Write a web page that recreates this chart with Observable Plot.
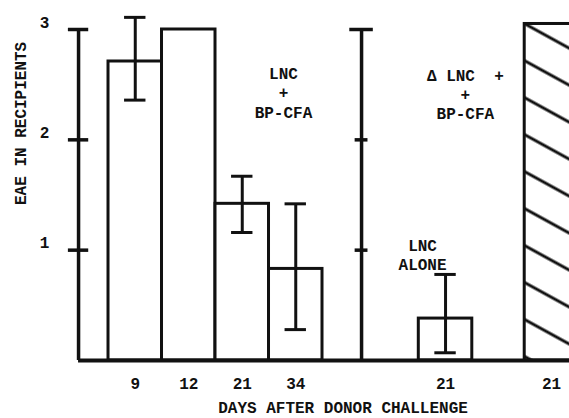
<!DOCTYPE html>
<html><head><meta charset="utf-8">
<script src="https://cdn.jsdelivr.net/npm/d3@7"></script>
<script src="https://cdn.jsdelivr.net/npm/@observablehq/plot@0.6"></script>
<style>html,body{margin:0;padding:0;background:#fff;overflow:hidden} svg{display:block;overflow:hidden}</style>
</head><body><div id="chart"></div>
<script>
// ---- data ----
const days = ["9", "12", "21", "34", "21", "21"];
const treatment = ["LNC + BP-CFA", "LNC + BP-CFA", "LNC + BP-CFA", "LNC + BP-CFA", "LNC alone", "ΔLNC + BP-CFA"];
const eae = [2.71, 3.0, 1.42, 0.83, 0.38, 3.05];
const errLow = [2.36, null, 1.16, 0.28, 0.07, null];
const errHigh = [3.11, null, 1.67, 1.42, 0.78, null];
const hatched = [false, false, false, false, false, true];
const yTicks = [1, 2, 3];
const yTickLabels = ["1", "2", "3"];
const notes = ["LNC\n+\nBP-CFA", "Δ LNC  +\n+\nBP-CFA", "LNC\nALONE"];
const xTitle = "DAYS AFTER DONOR CHALLENGE";
const yTitle = "EAE IN RECIPIENTS";

// ---- layout ----
const groupOf = [0, 0, 0, 0, 1, 2];
const groupShift = [0, 1.8, 2.78];
const slot = days.map((d, i) => i + groupShift[groupOf[i]]);
const axis1 = -0.56, axis2 = 4.73;
const noteX = [3.27, 6.67, 5.87];
const noteY = [2.43, 2.42, 0.965];

const bars = days.map((d, i) => ({
  day: d, treatment: treatment[i], x1: slot[i], x2: slot[i] + 1, xc: slot[i] + 0.5,
  y0: 0, eae: eae[i], lo: errLow[i], hi: errHigh[i], hatched: hatched[i]
}));
const errs = bars.filter(b => b.lo != null);
const ink = "#111";

const plot = Plot.plot({
  width: 569, height: 418,
  marginLeft: 0, marginRight: 0, marginTop: 29, marginBottom: 58,
  x: {type: "linear", domain: [-2.019, 8.617], axis: null},
  y: {domain: [0, 3], axis: null},
  style: {fontFamily: "'Liberation Mono', 'DejaVu Sans Mono', monospace", fontSize: "16px", fontWeight: "bold", color: ink, background: "#fff"},
  marks: [
    Plot.rect(bars.filter(b => !b.hatched), {x1: "x1", x2: "x2", y1: "y0", y2: "eae", fill: "white", stroke: ink, strokeWidth: 3}),
    Plot.rect(bars.filter(b => b.hatched), {x1: "x1", x2: "x2", y1: "y0", y2: "eae", fill: "url(#hatch)", stroke: ink, strokeWidth: 3}),
    // baseline
    Plot.ruleY([0], {x1: axis1, x2: 8.8, stroke: ink, strokeWidth: 4}),
    // left axis
    Plot.ruleX([axis1], {y1: 0, y2: 3, stroke: ink, strokeWidth: 3.5}),
    Plot.ruleY(yTicks, {y: d => d, x1: axis1 - 0.19, x2: axis1 + 0.19, stroke: ink, strokeWidth: 3.5}),
    Plot.text(yTicks, {x: axis1, y: d => d, text: (d, i) => yTickLabels[i], dx: -34, dy: -7}),
    // second axis
    Plot.ruleX([axis2], {y1: 0, y2: 3, stroke: ink, strokeWidth: 3.5}),
    Plot.ruleY(yTicks.filter(t => t < 3), {y: d => d, x1: axis2 - 0.12, x2: axis2 + 0.12, stroke: ink, strokeWidth: 3.5}),
    Plot.ruleY(yTicks.filter(t => t === 3), {y: d => d, x1: axis2 - 0.22, x2: axis2 + 0.22, stroke: ink, strokeWidth: 3.5}),
    // error bars
    Plot.ruleX(errs, {x: "xc", y1: "lo", y2: "hi", stroke: ink, strokeWidth: 3}),
    Plot.ruleY(errs, {y: "lo", x1: d => d.xc - 0.2, x2: d => d.xc + 0.2, stroke: ink, strokeWidth: 3}),
    Plot.ruleY(errs, {y: "hi", x1: d => d.xc - 0.2, x2: d => d.xc + 0.2, stroke: ink, strokeWidth: 3}),
    // day labels
    Plot.text(bars, {x: "xc", y: "y0", text: "day", dy: 23}),
    // notes
    Plot.text(notes, {x: (d, i) => noteX[i], y: (d, i) => noteY[i], text: d => d, lineHeight: 1.19}),
    // titles
    Plot.text([xTitle], {frameAnchor: "bottom", text: d => d, dx: 58, dy: 52}),
    Plot.text([yTitle], {frameAnchor: "left", text: d => d, rotate: -90, dx: 20, dy: 10})
  ]
});

// hatch pattern aligned with the hatched bar
const sx = plot.scale("x"), sy = plot.scale("y");
const hb = bars.find(b => b.hatched);
const ox = sx.apply(hb.x1), oy = sy.apply(hb.eae);
const ns = "http://www.w3.org/2000/svg";
const defs = document.createElementNS(ns, "defs");
const pat = document.createElementNS(ns, "pattern");
const ph = 32.4;
pat.setAttribute("id", "hatch");
pat.setAttribute("patternUnits", "userSpaceOnUse");
pat.setAttribute("width", 40);
pat.setAttribute("height", ph);
pat.setAttribute("patternTransform", `translate(${ox},${oy}) rotate(28.8)`);
const bg = document.createElementNS(ns, "rect");
bg.setAttribute("width", 40); bg.setAttribute("height", ph); bg.setAttribute("fill", "white");
pat.appendChild(bg);
for (const yy of [0, ph]) {
  const l = document.createElementNS(ns, "line");
  l.setAttribute("x1", -1); l.setAttribute("x2", 41);
  l.setAttribute("y1", yy); l.setAttribute("y2", yy);
  l.setAttribute("stroke", ink); l.setAttribute("stroke-width", 3);
  pat.appendChild(l);
}
defs.appendChild(pat);
plot.insertBefore(defs, plot.firstChild);
document.getElementById("chart").appendChild(plot);
</script>
</body></html>
